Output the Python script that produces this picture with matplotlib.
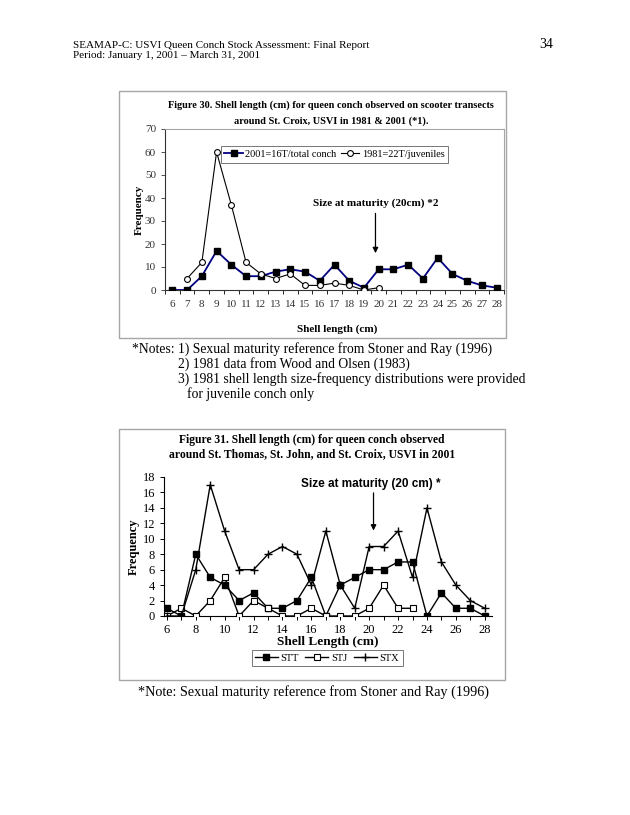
import matplotlib
matplotlib.use("Agg")
import matplotlib.pyplot as plt
from matplotlib.patches import Rectangle
from matplotlib.ticker import MultipleLocator

plt.rcParams['font.family'] = ['Liberation Serif', 'DejaVu Serif']

# Figure 30 data
lengths_30 = list(range(6, 29))
freq_2001 = [0, 0, 6, 17, 11, 6, 6, 8, 9, 8, 4, 11, 4, 1, 9, 9, 11, 5, 14, 7, 4, 2, 1]
lengths_1981 = list(range(7, 21))
freq_1981 = [5, 12, 60, 37, 12, 7, 5, 7, 2, 2, 3, 2, 0, 1]

# Figure 31 data
lengths_31 = list(range(6, 29))
stt = [1, 0, 8, 5, 4, 2, 3, 1, 1, 2, 5, 0, 4, 5, 6, 6, 7, 7, 0, 3, 1, 1, 0]
lengths_stj = list(range(6, 24))
stj = [0, 1, 0, 2, 5, 0, 2, 1, 0, 0, 1, 0, 0, 0, 1, 4, 1, 1]
stx = [0, 0, 6, 17, 11, 6, 6, 8, 9, 8, 4, 11, 4, 1, 9, 9, 11, 5, 14, 7, 4, 2, 1]

W, H = 630, 815
fig = plt.figure(figsize=(W / 100, H / 100), dpi=100)


def fx(x):
    return x / W


def fy(y):
    return 1 - y / H


def axes_px(left, top, right, bottom):
    return fig.add_axes([fx(left), fy(bottom), (right - left) / W, (bottom - top) / H])


# page header
fig.text(fx(73), fy(45), "SEAMAP-C: USVI Queen Conch Stock Assessment: Final Report",
         fontsize=8, va='center')
fig.text(fx(73), fy(56), "Period: January 1, 2001 \u2013 March 31, 2001", fontsize=8, va='center')
fig.text(fx(553), fy(45), "34", fontsize=10, va='center', ha='right')

# chart frames
for (l, t, r, b) in [(119, 91, 506, 338), (119, 429, 505, 680)]:
    fig.patches.append(Rectangle((fx(l), fy(b)), (r - l) / W, (b - t) / H,
                                 transform=fig.transFigure, fill=False,
                                 edgecolor='#a6a6a6', linewidth=1.0))

# ---------- Figure 30 ----------
ax1 = axes_px(165, 129, 504, 290)
ax1.plot(lengths_30, freq_2001, color='#000080', lw=1.3, marker='s', ms=4,
         mfc='black', mec='black', label='2001=16T/total conch', zorder=3)
ax1.plot(lengths_1981, freq_1981, color='black', lw=0.8, marker='o', ms=4.2,
         mfc='white', mec='black', mew=0.8, label='1981=22T/juveniles', zorder=4)
ax1.set_xlim(5.5, 28.5)
ax1.set_ylim(0, 70)
ax1.set_xticks(lengths_30)
ax1.set_xticklabels([str(v) for v in lengths_30], fontsize=8)
ax1.xaxis.set_minor_locator(MultipleLocator(1, offset=0.5))
ax1.tick_params(axis='x', which='major', length=0, pad=7)
ax1.tick_params(axis='x', which='minor', length=3, width=0.6)
ax1.set_yticks(range(0, 71, 10))
ax1.tick_params(axis='y', labelsize=8, length=3, width=0.6, colors='#333333')
ax1.tick_params(axis='x', colors='#333333')
for s in ['top', 'right']:
    ax1.spines[s].set_color('#a6a6a6')
for s in ['left', 'bottom']:
    ax1.spines[s].set_color('#333333')
ax1.set_ylabel('Frequency', fontsize=8, fontweight='bold', labelpad=1)
fig.text(fx(337), fy(329), 'Shell length (cm)', fontsize=8, fontweight='bold',
         ha='center', va='center')
fig.text(fx(331), fy(105), 'Figure 30. Shell length (cm) for queen conch observed on scooter transects',
         fontsize=7.4, fontweight='bold', ha='center', va='center')
fig.text(fx(331), fy(121), 'around St. Croix, USVI in 1981 & 2001 (*1).',
         fontsize=7.4, fontweight='bold', ha='center', va='center')
leg1 = ax1.legend(loc='upper center', bbox_to_anchor=(0.5, 0.925), ncol=2, fontsize=7.4,
                  frameon=True, fancybox=False, edgecolor='#555555', handlelength=1.8,
                  columnspacing=0.4, handletextpad=0.25, borderpad=0.35)
leg1.get_frame().set_linewidth(0.7)
ax1.annotate('', xy=(19.78, 14.8), xytext=(19.78, 34.5),
             arrowprops=dict(arrowstyle='-|>', color='black', lw=0.9, mutation_scale=8))
ax1.text(19.8, 37.6, 'Size at maturity (20cm) *2', fontsize=8, fontweight='bold',
         ha='center', va='center')

# notes
fig.text(fx(132), fy(349), '*Notes: 1) Sexual maturity reference from Stoner and Ray (1996)',
         fontsize=9.8, va='center')
fig.text(fx(178), fy(364), '2) 1981 data from Wood and Olsen (1983)', fontsize=9.8, va='center')
fig.text(fx(178), fy(379), '3) 1981 shell length size-frequency distributions were provided',
         fontsize=9.8, va='center')
fig.text(fx(187), fy(394), 'for juvenile conch only', fontsize=9.8, va='center')

# ---------- Figure 31 ----------
ax2 = axes_px(164, 477, 492, 616)
ax2.plot(lengths_31, stt, color='black', lw=1.0, marker='s', ms=4.5,
         mfc='black', mec='black', label='STT', zorder=3)
ax2.plot(lengths_stj, stj, color='black', lw=1.0, marker='s', ms=4.5,
         mfc='white', mec='black', mew=0.8, label='STJ', zorder=4)
ax2.plot(lengths_31, stx, color='black', lw=1.0, marker='+', ms=6, mew=1.0,
         label='STX', zorder=5)
ax2.set_xlim(5.8, 28.5)
ax2.set_ylim(0, 18)
ax2.set_xticks(range(6, 29, 2))
ax2.xaxis.set_minor_locator(MultipleLocator(1))
ax2.set_yticks(range(0, 19, 2))
ax2.tick_params(axis='both', which='major', labelsize=9, length=3, width=0.7)
ax2.tick_params(axis='x', which='minor', length=3, width=0.7)
ax2.tick_params(axis='x', pad=3)
ax2.spines['top'].set_visible(False)
ax2.spines['right'].set_visible(False)
ax2.set_ylabel('Frequency', fontsize=9, fontweight='bold', labelpad=2)
ax2.set_xlabel('Shell Length (cm)', fontsize=9.5, fontweight='bold', labelpad=0)
fig.text(fx(312), fy(440), 'Figure 31. Shell length (cm) for queen conch observed',
         fontsize=8.4, fontweight='bold', ha='center', va='center')
fig.text(fx(312), fy(454), 'around St. Thomas, St. John, and St. Croix, USVI in 2001',
         fontsize=8.4, fontweight='bold', ha='center', va='center')
ax2.annotate('', xy=(20.3, 10.7), xytext=(20.3, 16.3),
             arrowprops=dict(arrowstyle='-|>', color='black', lw=0.9, mutation_scale=8))
ax2.text(20.1, 17.1, 'Size at maturity (20 cm) *', fontsize=8.5, fontweight='bold',
         family=['Liberation Sans', 'DejaVu Sans'], ha='center', va='center')
h, lab = ax2.get_legend_handles_labels()
leg2 = fig.legend(h, lab, loc='center', bbox_to_anchor=(fx(327), fy(658)), ncol=3,
                  fontsize=7.5, frameon=True, fancybox=False, edgecolor='#555555',
                  handlelength=2.2, columnspacing=0.6, handletextpad=0.3, borderpad=0.3)
leg2.get_frame().set_linewidth(0.7)

fig.text(fx(313), fy(692), '*Note: Sexual maturity reference from Stoner and Ray (1996)',
         fontsize=10.2, ha='center', va='center')

fig.savefig('out.png', dpi=100)
